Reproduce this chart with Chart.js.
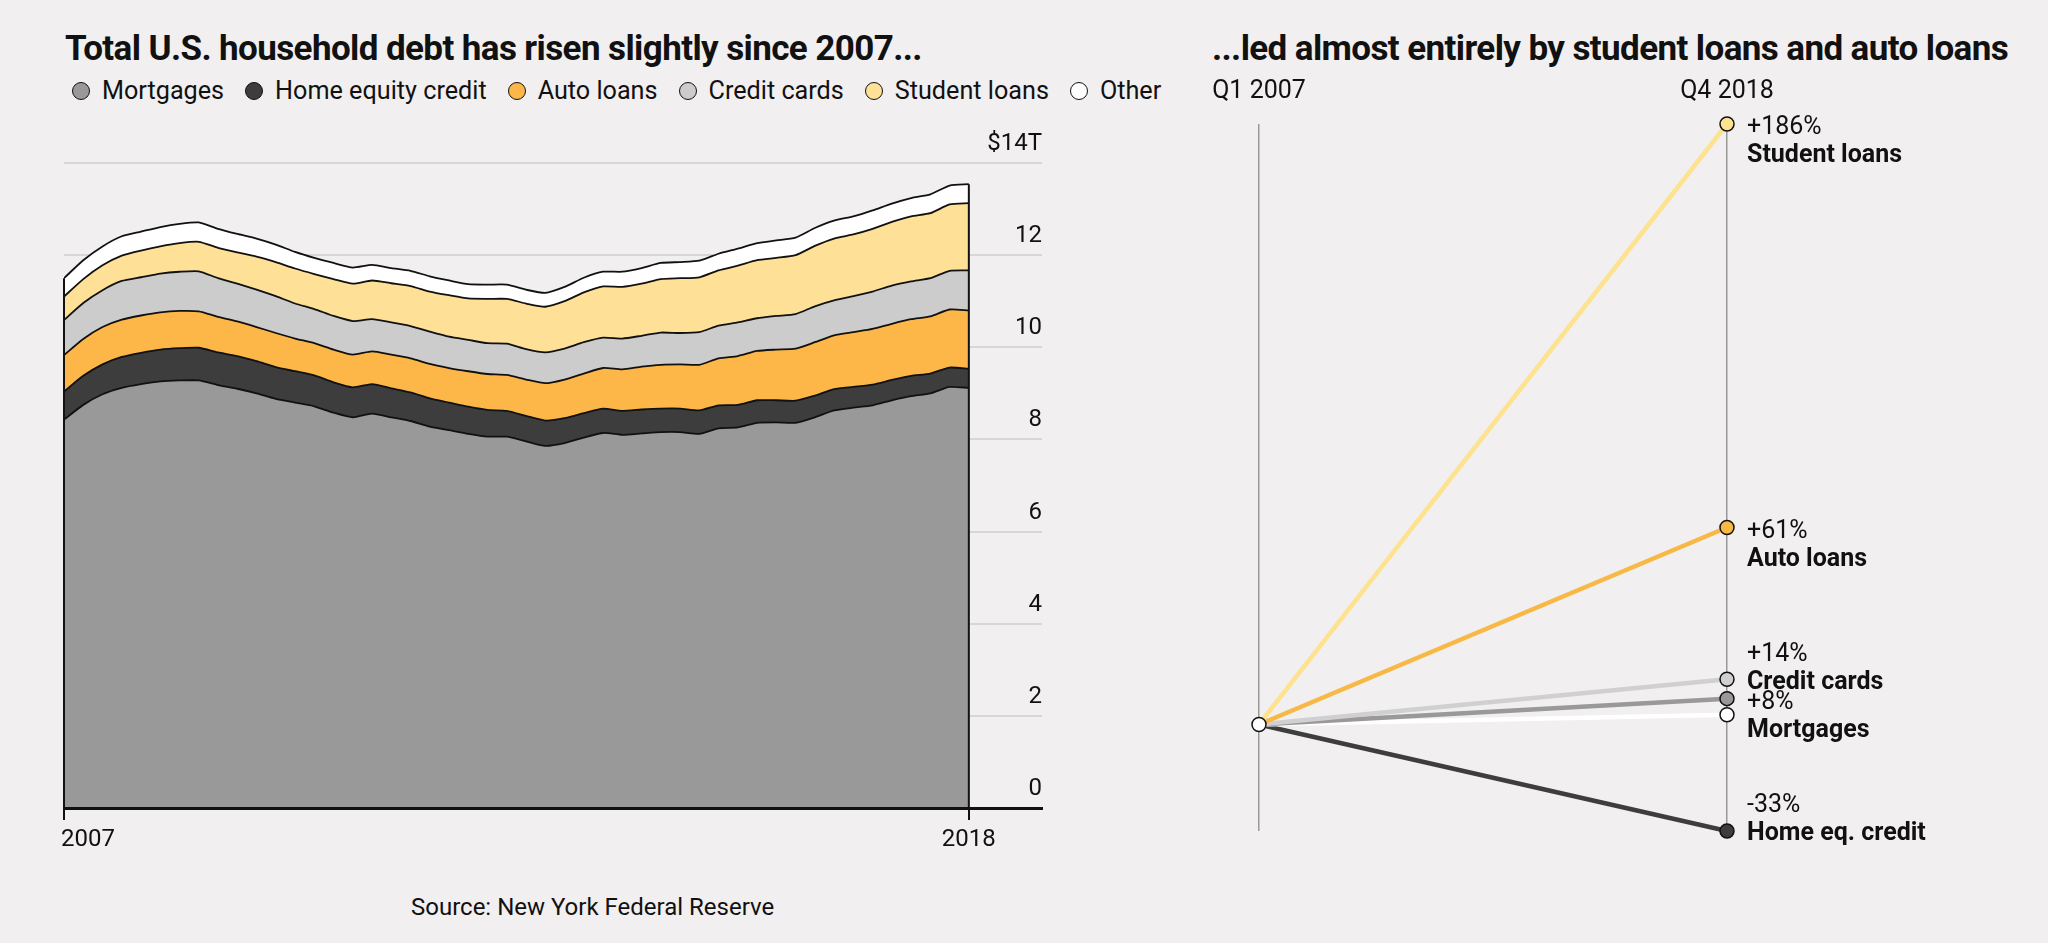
<!DOCTYPE html>
<html>
<head>
<meta charset="utf-8">
<script src="https://cdn.jsdelivr.net/npm/chart.js@4.4.1/dist/chart.umd.min.js"></script>
<style>
    body { margin: 0; background: #f1eff0; font-family: 'Roboto', sans-serif; color: #111; }
    #page { position: relative; width: 2048px; height: 943px; overflow: hidden; }
    .title { position: absolute; top: 28px; font-weight: 700; font-size: 35px; letter-spacing: -0.6px; white-space: nowrap; }
    #legend { position: absolute; left: 72px; top: 76px; display: flex; font-size: 25.2px; white-space: nowrap; }
    .legend-item { display: flex; align-items: center; margin-right: 21px; }
    .legend-dot { width: 16px; height: 16px; border-radius: 50%; border: 1.5px solid #111; margin-right: 12px; }
    #source { position: absolute; left: 411px; top: 893px; font-size: 24px; }
    .box { position: absolute; }
</style>
</head>
<body>
<div id="page">
    <div class="title" style="left:65px">Total U.S. household debt has risen slightly since 2007...</div>
    <div class="title" style="left:1212px">...led almost entirely by student loans and auto loans</div>
    <div id="legend"></div>
    <div class="box" style="left:0; top:120px; width:1100px; height:750px;"><canvas id="debtChart"></canvas></div>
    <div class="box" style="left:1150px; top:60px; width:898px; height:800px;"><canvas id="changeChart"></canvas></div>
    <div id="source">Source: New York Federal Reserve</div>
</div>
<script>
// Quarterly balances, trillions of dollars (Q1 2007 - Q4 2018)
const quarters = [
    'Q1 2007', 'Q2 2007', 'Q3 2007', 'Q4 2007', 'Q1 2008', 'Q2 2008', 'Q3 2008', 'Q4 2008',
    'Q1 2009', 'Q2 2009', 'Q3 2009', 'Q4 2009', 'Q1 2010', 'Q2 2010', 'Q3 2010', 'Q4 2010',
    'Q1 2011', 'Q2 2011', 'Q3 2011', 'Q4 2011', 'Q1 2012', 'Q2 2012', 'Q3 2012', 'Q4 2012',
    'Q1 2013', 'Q2 2013', 'Q3 2013', 'Q4 2013', 'Q1 2014', 'Q2 2014', 'Q3 2014', 'Q4 2014',
    'Q1 2015', 'Q2 2015', 'Q3 2015', 'Q4 2015', 'Q1 2016', 'Q2 2016', 'Q3 2016', 'Q4 2016',
    'Q1 2017', 'Q2 2017', 'Q3 2017', 'Q4 2017', 'Q1 2018', 'Q2 2018', 'Q3 2018', 'Q4 2018'
];
const mortgages = [8.43, 8.75, 8.98, 9.12, 9.20, 9.26, 9.28, 9.28, 9.18, 9.10, 9.00, 8.88,
    8.80, 8.72, 8.58, 8.48, 8.56, 8.48, 8.40, 8.28, 8.20, 8.12, 8.06, 8.06,
    7.96, 7.86, 7.92, 8.04, 8.14, 8.10, 8.13, 8.16, 8.16, 8.12, 8.24, 8.26,
    8.36, 8.37, 8.36, 8.48, 8.63, 8.69, 8.74, 8.85, 8.94, 9.00, 9.14, 9.12];
const homeEquity = [0.61, 0.63, 0.65, 0.67, 0.68, 0.69, 0.70, 0.71, 0.71, 0.71, 0.70, 0.69,
    0.68, 0.67, 0.66, 0.65, 0.64, 0.63, 0.62, 0.61, 0.60, 0.59, 0.58, 0.56,
    0.55, 0.55, 0.54, 0.53, 0.53, 0.52, 0.52, 0.51, 0.51, 0.51, 0.50, 0.49,
    0.49, 0.48, 0.48, 0.47, 0.46, 0.45, 0.45, 0.44, 0.44, 0.43, 0.42, 0.41];
const autoLoans = [0.79, 0.80, 0.81, 0.81, 0.81, 0.81, 0.81, 0.79, 0.77, 0.75, 0.74, 0.74,
    0.71, 0.70, 0.71, 0.71, 0.71, 0.73, 0.74, 0.75, 0.75, 0.77, 0.78, 0.78,
    0.79, 0.81, 0.84, 0.86, 0.88, 0.90, 0.93, 0.95, 0.96, 0.99, 1.02, 1.06,
    1.07, 1.10, 1.13, 1.16, 1.17, 1.19, 1.21, 1.22, 1.23, 1.24, 1.26, 1.27];
const creditCards = [0.76, 0.78, 0.80, 0.84, 0.83, 0.84, 0.85, 0.87, 0.84, 0.82, 0.81, 0.80,
    0.76, 0.74, 0.73, 0.73, 0.70, 0.70, 0.70, 0.70, 0.68, 0.68, 0.67, 0.68,
    0.66, 0.67, 0.67, 0.68, 0.66, 0.67, 0.67, 0.70, 0.68, 0.71, 0.71, 0.73,
    0.71, 0.73, 0.75, 0.78, 0.76, 0.78, 0.81, 0.83, 0.82, 0.83, 0.84, 0.87];
const studentLoans = [0.51, 0.52, 0.54, 0.55, 0.58, 0.59, 0.62, 0.64, 0.66, 0.68, 0.72, 0.74,
    0.76, 0.76, 0.80, 0.81, 0.84, 0.85, 0.87, 0.87, 0.90, 0.90, 0.96, 0.97,
    0.99, 0.99, 1.03, 1.08, 1.11, 1.12, 1.13, 1.16, 1.19, 1.19, 1.20, 1.23,
    1.26, 1.26, 1.28, 1.31, 1.34, 1.34, 1.36, 1.38, 1.41, 1.41, 1.44, 1.46];
const otherDebt = [0.40, 0.41, 0.41, 0.42, 0.41, 0.42, 0.42, 0.42, 0.41, 0.40, 0.39, 0.38,
    0.36, 0.35, 0.35, 0.35, 0.34, 0.33, 0.33, 0.33, 0.32, 0.31, 0.31, 0.31,
    0.30, 0.30, 0.31, 0.32, 0.32, 0.33, 0.34, 0.35, 0.35, 0.36, 0.36, 0.37,
    0.37, 0.38, 0.38, 0.39, 0.39, 0.39, 0.40, 0.40, 0.40, 0.41, 0.41, 0.41];

const seriesNames = ['Mortgages', 'Home equity credit', 'Auto loans', 'Credit cards', 'Student loans', 'Other'];
const seriesValues = [mortgages, homeEquity, autoLoans, creditCards, studentLoans, otherDebt];
const seriesColors = ['#999999', '#3d3d3d', '#fdb749', '#cccccc', '#fee096', '#ffffff'];
const yTicks = [0, 2, 4, 6, 8, 10, 12, 14];
const yearLabels = ['2007', '2018'];

// Change between Q1 2007 and Q4 2018, percent
const periodLabels = ['Q1 2007', 'Q4 2018'];
const changeNames = ['Student loans', 'Auto loans', 'Credit cards', 'Mortgages', 'Other', 'Home eq. credit'];
const changePct = [186, 61, 14, 8, 3, -33];
const changeColors = ['#fde28f', '#f7b845', '#d0d0d0', '#999999', '#ffffff', '#3d3d3d'];
const labelPlacement = ['below', 'below', 'above', 'below', null, 'above'];

const FONT = 'Roboto';

// Build HTML legend
function buildLegend() {
    const legend = document.getElementById('legend');
    legend.innerHTML = seriesNames.map((name, i) => `
        <div class="legend-item">
            <span class="legend-dot" style="background:${seriesColors[i]}"></span>
            <span>${name}</span>
        </div>
    `).join('');
}

// Vertical edges of the stacked area at the first and last quarter
const areaEdges = {
    id: 'areaEdges',
    afterDatasetsDraw(chart) {
        const ctx = chart.ctx;
        const top = chart.getDatasetMeta(chart.data.datasets.length - 1);
        const base = chart.scales.y.getPixelForValue(0);
        ctx.save();
        ctx.strokeStyle = '#111';
        ctx.lineWidth = 2;
        [0, quarters.length - 1].forEach(i => {
            const pt = top.data[i];
            ctx.beginPath();
            ctx.moveTo(pt.x, base);
            ctx.lineTo(pt.x, pt.y);
            ctx.stroke();
        });
        ctx.restore();
    }
};

// Year labels under the tick marks
const yearTicks = {
    id: 'yearTicks',
    afterDraw(chart) {
        const ctx = chart.ctx;
        const x = chart.scales.x;
        const y = chart.chartArea.bottom + 32;
        ctx.save();
        ctx.font = `24px ${FONT}`;
        ctx.fillStyle = '#111';
        ctx.textBaseline = 'middle';
        ctx.textAlign = 'left';
        ctx.fillText(yearLabels[0], x.getPixelForValue(0) - 3, y);
        ctx.textAlign = 'center';
        ctx.fillText(yearLabels[1], x.getPixelForValue(quarters.length - 1), y);
        ctx.restore();
    }
};

// Initialize stacked area chart
function initDebtChart() {
    const ctx = document.getElementById('debtChart').getContext('2d');
    new Chart(ctx, {
        type: 'line',
        data: {
            datasets: seriesNames.map((name, i) => ({
                label: name,
                data: seriesValues[i].map((v, q) => ({ x: q, y: v })),
                backgroundColor: seriesColors[i],
                borderColor: '#111',
                borderWidth: 1.8,
                fill: i === 0 ? 'origin' : '-1',
                pointRadius: 0,
                tension: 0.2
            }))
        },
        options: {
            responsive: true,
            maintainAspectRatio: false,
            animation: false,
            layout: { padding: { left: 64, right: 58, top: 43, bottom: 50 } },
            plugins: { legend: { display: false }, tooltip: { enabled: false } },
            scales: {
                x: {
                    type: 'linear',
                    min: 0,
                    max: 50.8,
                    afterBuildTicks: axis => { axis.ticks = [{ value: 0 }, { value: quarters.length - 1 }]; },
                    ticks: { display: false },
                    grid: { drawOnChartArea: false, drawTicks: true, tickLength: 12, color: '#111', lineWidth: 2, z: 1 },
                    border: { display: true, color: '#111', width: 3, z: 1 }
                },
                y: {
                    position: 'right',
                    stacked: true,
                    min: 0,
                    max: 14,
                    afterBuildTicks: axis => { axis.ticks = yTicks.map(v => ({ value: v })); },
                    ticks: {
                        mirror: true,
                        padding: 0,
                        labelOffset: -19,
                        color: '#111',
                        font: { family: FONT, size: 24 },
                        callback: v => v === 14 ? '$14T' : String(v)
                    },
                    grid: {
                        drawTicks: false,
                        color: c => c.tick && c.tick.value === 0 ? 'rgba(0,0,0,0)' : '#d6d6d6',
                        lineWidth: 2
                    },
                    border: { display: false }
                }
            }
        },
        plugins: [areaEdges, yearTicks]
    });
}

// End labels for the slope chart
const endLabels = {
    id: 'endLabels',
    afterDatasetsDraw(chart) {
        const ctx = chart.ctx;
        ctx.save();
        ctx.fillStyle = '#111';
        ctx.textAlign = 'left';
        ctx.textBaseline = 'middle';
        changeNames.forEach((name, i) => {
            const place = labelPlacement[i];
            if (!place) return;
            const pt = chart.getDatasetMeta(i).data[1];
            const pct = (changePct[i] > 0 ? '+' : '') + changePct[i] + '%';
            const x = pt.x + 20;
            const pctY = place === 'below' ? pt.y + 4 : pt.y - 25;
            const nameY = pctY + 28;
            ctx.font = `25px ${FONT}`;
            ctx.fillText(pct, x, pctY);
            ctx.font = `700 25px ${FONT}`;
            ctx.fillText(name, x, nameY);
        });
        ctx.restore();
    }
};

// Initialize slope chart
function initChangeChart() {
    const ctx = document.getElementById('changeChart').getContext('2d');
    new Chart(ctx, {
        type: 'line',
        data: {
            datasets: changeNames.map((name, i) => ({
                label: name,
                data: [{ x: 0, y: 0 }, { x: 1, y: changePct[i] }],
                borderColor: changeColors[i],
                borderWidth: 4.5,
                pointRadius: c => (c.dataIndex === 1 || c.datasetIndex === 0) ? 7 : 0,
                pointBackgroundColor: c => c.dataIndex === 0 ? '#ffffff' : changeColors[i],
                pointBorderColor: '#111',
                pointBorderWidth: 1.5,
                clip: false
            }))
        },
        options: {
            responsive: true,
            maintainAspectRatio: false,
            animation: false,
            layout: { padding: { left: 109, right: 321, top: 0, bottom: 29 } },
            plugins: { legend: { display: false }, tooltip: { enabled: false } },
            scales: {
                x: {
                    type: 'linear',
                    position: 'top',
                    min: 0,
                    max: 1,
                    afterBuildTicks: axis => { axis.ticks = [{ value: 0 }, { value: 1 }]; },
                    ticks: {
                        padding: 17,
                        color: '#111',
                        font: { family: FONT, size: 25 },
                        callback: (v, idx) => periodLabels[idx]
                    },
                    grid: { drawTicks: false, color: '#999999', lineWidth: 1.5 },
                    border: { display: false }
                },
                y: {
                    display: false,
                    min: Math.min(...changePct),
                    max: Math.max(...changePct)
                }
            }
        },
        plugins: [endLabels]
    });
}

document.addEventListener('DOMContentLoaded', () => {
    buildLegend();
    initDebtChart();
    initChangeChart();
});
</script>
</body>
</html>
